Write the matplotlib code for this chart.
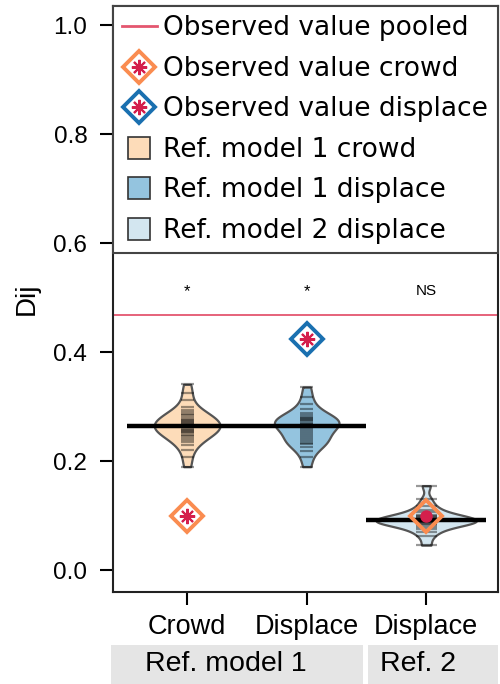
import numpy as np
import matplotlib.pyplot as plt
from matplotlib.patches import Rectangle
from matplotlib.lines import Line2D
from matplotlib.legend_handler import HandlerTuple
import matplotlib.transforms as mtransforms

# categories and group labels
cat_labels = ['Crowd', 'Displace', 'Displace']
group_labels = ['Ref. model 1', 'Ref. 2']
signif = ['*', '*', 'NS']

# simulated Dij values under the reference models (read off the beans)
crowd_sims = [0.19, 0.207, 0.22, 0.229, 0.235, 0.239, 0.243, 0.246, 0.249, 0.252,
              0.254, 0.256, 0.258, 0.26, 0.262, 0.264, 0.266, 0.268, 0.27, 0.272,
              0.274, 0.276, 0.278, 0.281, 0.284, 0.287, 0.29, 0.294, 0.3, 0.312,
              0.325, 0.341]
displace_sims = [0.19, 0.207, 0.219, 0.226, 0.231, 0.234, 0.237, 0.24, 0.244, 0.248,
                 0.252, 0.256, 0.259, 0.262, 0.265, 0.267, 0.269, 0.271, 0.273, 0.275,
                 0.277, 0.279, 0.282, 0.285, 0.289, 0.295, 0.305, 0.318, 0.336]
ref2_sims = [0.046, 0.062, 0.07, 0.076, 0.08, 0.083, 0.085, 0.087, 0.088, 0.089,
             0.09, 0.091, 0.092, 0.093, 0.094, 0.095, 0.097, 0.099, 0.102, 0.106,
             0.111, 0.118, 0.13, 0.155]
means = [0.265, 0.264, 0.092]

obs_pooled = 0.468
obs_crowd = [0.10, None, 0.10]
obs_displace = [None, 0.424, None]

fill_cols = ['#fddcb9', '#94c4df', '#d3e6f0']
orange = '#fa8c50'
blue = '#1a70b0'
red = '#d41f4c'
pink = '#e4566f'

plt.rcParams['font.family'] = ['Liberation Sans', 'DejaVu Sans']

fig = plt.figure(figsize=(5, 6.84), dpi=100)
ax = fig.add_axes([0.226, 0.1345, 0.77, 0.8565])

pos = [1, 2, 3]
sims = [crowd_sims, displace_sims, ref2_sims]
for p, s, c, w in zip(pos, sims, fill_cols, [0.55, 0.54, 0.84]):
    vp = ax.violinplot([s], positions=[p], widths=w, showextrema=False, bw_method=0.38)
    for b in vp['bodies']:
        b.set_facecolor(c)
        b.set_edgecolor('#555555')
        b.set_linewidth(1.6)
        b.set_alpha(1)
        b.set_zorder(2)
    hw = 0.055 if p < 3 else 0.09
    ax.hlines(s, p - hw, p + hw, color='black', alpha=0.4, lw=1.6, zorder=3)

ax.hlines(means, np.array(pos) - 0.5, np.array(pos) + 0.5, color='black', lw=3.2, zorder=4)
ax.axhline(obs_pooled, color=pink, lw=1.3, zorder=1)

for p, v in zip(pos, obs_crowd):
    if v is None:
        continue
    ax.plot(p, v, marker='D', ms=16, mfc='none', mec=orange, mew=2.8, zorder=6)
    if p < 3:
        ax.plot(p, v, marker=(8, 2, 0), ms=11, color=red, mew=1.5, zorder=7)
    else:
        ax.plot(p, v, marker='o', ms=8, color=red, zorder=7)
for p, v in zip(pos, obs_displace):
    if v is None:
        continue
    ax.plot(p, v, marker='D', ms=16, mfc='none', mec=blue, mew=2.8, zorder=6)
    ax.plot(p, v, marker=(8, 2, 0), ms=11, color=red, mew=1.5, zorder=7)

for p, t in zip(pos, signif):
    ax.text(p, 0.512, t, ha='center', va='center', fontsize=11 if t == 'NS' else 12)

ax.set_xlim(0.38, 3.60)
ax.set_ylim(-0.04, 1.035)
ax.set_xticks(pos)
ax.set_xticklabels(cat_labels, fontsize=19.5)
ax.set_yticks([0.0, 0.2, 0.4, 0.6, 0.8, 1.0])
ax.set_yticklabels(['0.0', '0.2', '0.4', '0.6', '0.8', '1.0'], fontsize=17.5)
ax.tick_params(axis='both', length=9.5, width=1.5, direction='out')
ax.tick_params(axis='x', pad=6)
ax.tick_params(axis='y', pad=9)
for sp in ax.spines.values():
    sp.set_linewidth(1.5)
    sp.set_color('#222222')
ax.set_ylabel('Dij', fontsize=20, labelpad=10)

# facet strip under the axis
trans = mtransforms.blended_transform_factory(ax.transData, ax.transAxes)
for x0, x1, lab, tx in [(0.364, 2.473, group_labels[0], 1.32), (2.515, 3.60, group_labels[1], 2.93)]:
    ax.add_patch(Rectangle((x0, -0.157), x1 - x0, 0.067, transform=trans,
                           facecolor='#e5e5e5', edgecolor='none', clip_on=False))
    ax.text(tx, -0.123, lab, transform=trans, ha='center', va='center', fontsize=20.5)

def square(col):
    return Line2D([], [], marker='s', ms=16, mfc=col, mec='#333333', mew=1.2, ls='none')

handles = [
    Line2D([], [], color=pink, lw=2),
    (Line2D([], [], marker='D', ms=16, mfc='white', mec=orange, mew=2.8, ls='none'),
     Line2D([], [], marker=(8, 2, 0), ms=11, color=red, mew=1.5, ls='none')),
    (Line2D([], [], marker='D', ms=16, mfc='white', mec=blue, mew=2.8, ls='none'),
     Line2D([], [], marker=(8, 2, 0), ms=11, color=red, mew=1.5, ls='none')),
    square(fill_cols[0]),
    square(fill_cols[1]),
    square(fill_cols[2]),
]
labels = ['Observed value pooled', 'Observed value crowd', 'Observed value displace',
          'Ref. model 1 crowd', 'Ref. model 1 displace', 'Ref. model 2 displace']
leg = ax.legend(handles, labels, loc='upper left', bbox_to_anchor=(0, 1, 1, 0), mode='expand',
                borderaxespad=0, fancybox=False, framealpha=1, edgecolor='#444444',
                prop={'family': 'DejaVu Sans', 'size': 19}, handlelength=1.3,
                handletextpad=0.25, labelspacing=0.55, borderpad=0.35,
                handler_map={tuple: HandlerTuple(ndivide=1, pad=0)})
leg.get_frame().set_linewidth(1.5)
leg.set_zorder(10)

fig.savefig('out.png', dpi=100)
